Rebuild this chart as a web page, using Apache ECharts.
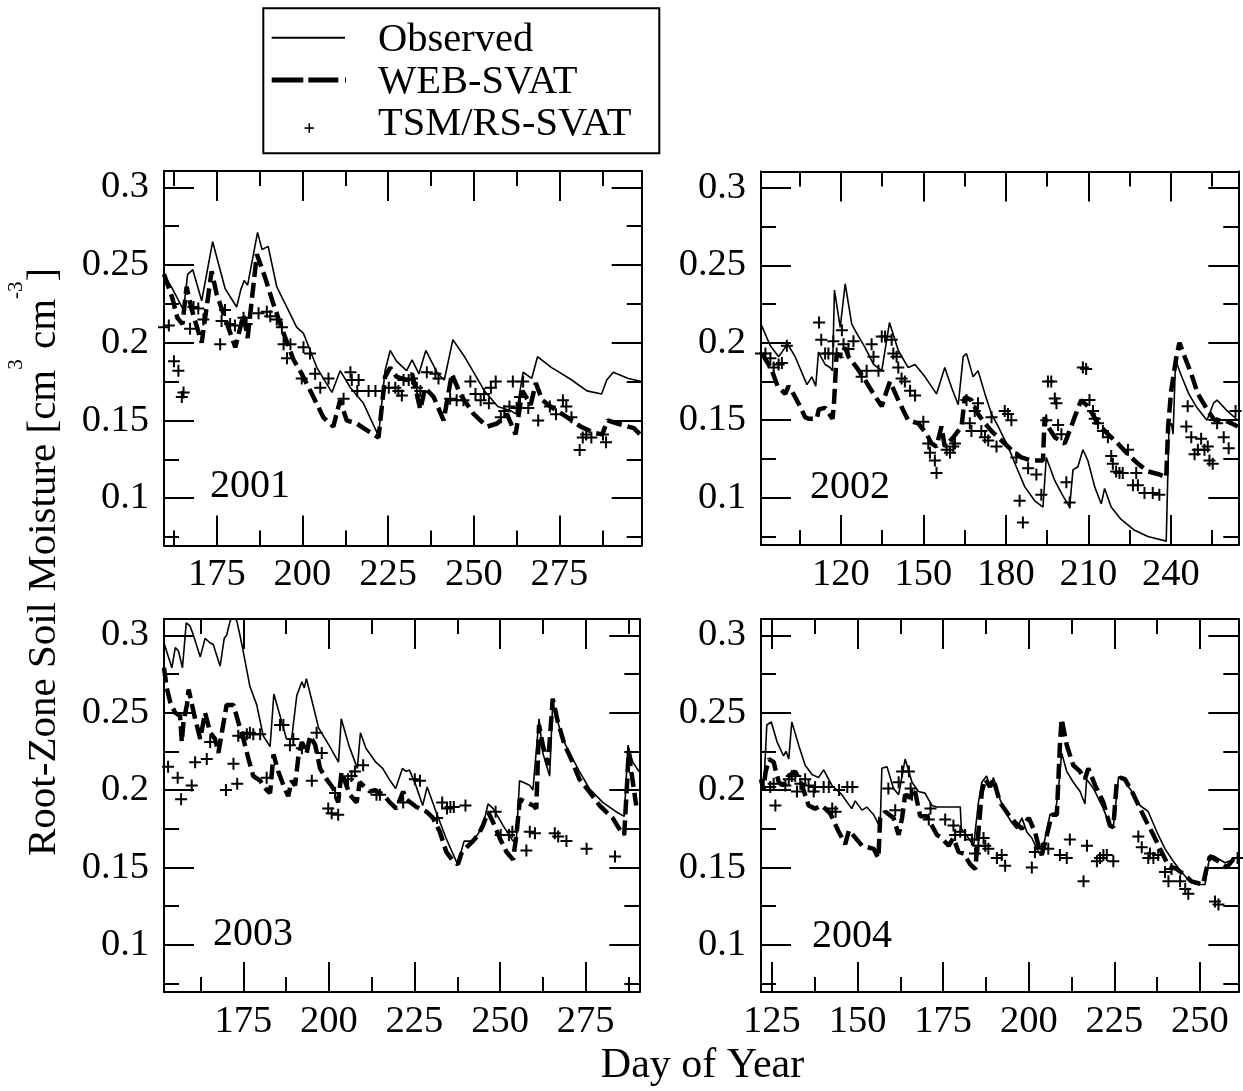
<!DOCTYPE html>
<html>
<head>
<meta charset="utf-8">
<script src="https://cdn.jsdelivr.net/npm/echarts@6/dist/echarts.min.js"></script>
<style>
html,body{margin:0;padding:0;background:#fff;}
#chart{width:1243px;height:1091px;}
</style>
</head>
<body>
<div id="chart"></div>
<script>
// ---------------- DATA ----------------
const seriesNames = ['Observed', 'WEB-SVAT', 'TSM/RS-SVAT'];
const yearLabels = ['2001', '2002', '2003', '2004'];
const xAxisTitle = 'Day of Year';

const yMajorTicks = [0.1, 0.15, 0.2, 0.25, 0.3];
const yMinorTicks = [0.075, 0.125, 0.175, 0.225, 0.275];

const xMajor2001 = [175, 200, 225, 250, 275];
const xMinor2001 = [162.5, 187.5, 212.5, 237.5, 262.5, 287.5];
const xMajor2002 = [120, 150, 180, 210, 240];
const xMinor2002 = [105, 135, 165, 195, 225, 255];
const xMajor2003 = [175, 200, 225, 250, 275];
const xMinor2003 = [162.5, 187.5, 212.5, 237.5, 262.5, 287.5];
const xMajor2004 = [125, 150, 175, 200, 225, 250];
const xMinor2004 = [137.5, 162.5, 187.5, 212.5, 237.5];

const obs2001 = [[159.6,0.244],[162,0.235],[165.3,0.221],[166.5,0.244],[168,0.247],[170.6,0.227],[173.8,0.265],[177.4,0.235],[180.8,0.223],[182,0.234],[183,0.24],[184,0.237],[186.9,0.271],[188.2,0.260],[190,0.262],[192.5,0.236],[195.4,0.223],[198.3,0.21],[200.3,0.206],[204.2,0.184],[208.6,0.168],[211,0.182],[214,0.171],[217.8,0.161],[222.2,0.140],[224.1,0.182],[225.6,0.195],[227.5,0.188],[230.4,0.182],[232,0.189],[234,0.18],[236,0.195],[239.5,0.18],[241.4,0.176],[243.9,0.202],[247.3,0.191],[253.1,0.169],[257,0.159],[261,0.156],[262.4,0.154],[264.4,0.181],[266.9,0.177],[268.6,0.191],[272.7,0.184],[274.2,0.182],[278.6,0.176],[283,0.169],[287.3,0.167],[288.8,0.176],[290.7,0.181],[295.1,0.177],[299,0.175]];
const web2001 = [[159.6,0.244],[162,0.229],[163.5,0.216],[165,0.212],[166.2,0.236],[167.6,0.222],[170.6,0.2],[173.5,0.246],[175,0.231],[177.4,0.216],[180.4,0.197],[182.8,0.218],[184,0.203],[186.7,0.257],[189.1,0.242],[191.5,0.225],[194.5,0.206],[197.4,0.189],[199.8,0.18],[203.2,0.165],[206.1,0.152],[209,0.146],[211,0.163],[212.9,0.15],[215.8,0.148],[219.3,0.143],[222.2,0.139],[224.1,0.178],[225.6,0.184],[227.5,0.178],[230.4,0.176],[232,0.18],[234.4,0.157],[235.8,0.171],[238.3,0.165],[241.2,0.15],[243.6,0.18],[246,0.167],[250,0.154],[253.9,0.146],[256.8,0.148],[259.7,0.154],[262.2,0.141],[264.2,0.169],[266.6,0.16],[268.1,0.174],[270,0.163],[272.4,0.159],[277.3,0.152],[281.2,0.146],[285.1,0.142],[287.5,0.141],[289,0.15],[291.9,0.148],[296.7,0.145],[299,0.14]];
const tsm2001 = [[159.6,0.21],[161,0.211],[162.5,0.188],[163.8,0.182],[164.8,0.165],[165.3,0.168],[167.2,0.209],[168.2,0.223],[169.6,0.222],[171.1,0.215],[176,0.199],[176.4,0.214],[177.4,0.221],[178.9,0.212],[180.3,0.211],[182.8,0.216],[183.7,0.212],[187.2,0.219],[189.6,0.22],[190.6,0.217],[192.5,0.215],[194,0.21],[194.5,0.199],[195.5,0.19],[196.5,0.199],[199.8,0.177],[200.3,0.197],[202.2,0.193],[203.7,0.18],[205.2,0.171],[207.6,0.177],[212,0.164],[214,0.181],[214.4,0.176],[216,0.169],[216.4,0.176],[219.3,0.169],[221.3,0.169],[225.2,0.171],[227.1,0.171],[228,0.169],[229,0.166],[229.5,0.176],[231,0.176],[232,0.177],[233.4,0.171],[234.4,0.169],[236.3,0.181],[238.8,0.18],[239.7,0.177],[243.1,0.164],[245,0.163],[247,0.163],[249,0.175],[250.5,0.167],[252,0.163],[253,0.167],[254.4,0.161],[255,0.171],[256.4,0.175],[257.9,0.152],[258.9,0.156],[260.4,0.159],[261.4,0.175],[262.5,0.158],[263.5,0.165],[264.4,0.175],[265.9,0.158],[268.8,0.15],[272.2,0.159],[274,0.154],[276,0.163],[277,0.159],[278.5,0.152],[280.9,0.131],[281.8,0.139],[282.8,0.141],[284.3,0.139],[287.7,0.141],[288.6,0.136]];

const obs2002 = [[91,0.212],[94.4,0.198],[97.4,0.191],[99.8,0.197],[100.4,0.2],[103.4,0.191],[107.7,0.173],[109.5,0.178],[110.9,0.172],[111.9,0.194],[114.3,0.186],[116.1,0.184],[117,0.182],[117.7,0.234],[119.8,0.21],[121.6,0.238],[124,0.212],[125.8,0.206],[128.8,0.197],[131.9,0.186],[134.9,0.182],[137.7,0.213],[140.9,0.195],[144.5,0.184],[147,0.186],[150.6,0.178],[154.8,0.167],[157.8,0.184],[160.3,0.171],[162.7,0.16],[164.5,0.191],[165.7,0.193],[168.1,0.178],[169.9,0.182],[172.4,0.167],[174.8,0.154],[177.2,0.146],[180.8,0.133],[183.8,0.12],[186.9,0.107],[190.5,0.098],[193.5,0.094],[194.7,0.126],[197.8,0.111],[200.8,0.101],[203.2,0.094],[204.4,0.118],[206.2,0.12],[208,0.131],[209.8,0.124],[212.3,0.107],[214.7,0.096],[215.9,0.106],[218.3,0.094],[221.9,0.086],[226.8,0.079],[231.6,0.075],[238.3,0.072],[239.3,0.146],[240.2,0.148],[240.8,0.141],[241.7,0.189],[243.5,0.18],[246.5,0.167],[249.5,0.158],[253.1,0.15],[255.5,0.161],[256.8,0.163],[260.5,0.156],[264.3,0.15]];
const web2002 = [[91.3,0.193],[93.8,0.186],[95,0.182],[97,0.172],[99.8,0.167],[101,0.172],[102.2,0.169],[105.2,0.159],[107,0.152],[108.3,0.151],[111.3,0.151],[112,0.157],[114.3,0.158],[117,0.151],[117.5,0.16],[118.5,0.193],[120.4,0.191],[121.6,0.197],[122.8,0.191],[125.8,0.184],[128.8,0.176],[131.9,0.167],[134.9,0.159],[136.7,0.169],[137.9,0.175],[140.9,0.163],[144.5,0.15],[148.2,0.148],[151.2,0.141],[153,0.135],[154.8,0.133],[156.6,0.146],[157.8,0.133],[160.9,0.139],[163.9,0.146],[165.1,0.165],[167.5,0.163],[169.9,0.154],[172.4,0.148],[174.8,0.143],[177.2,0.139],[179.6,0.135],[182,0.131],[185.7,0.126],[189.3,0.124],[193.5,0.124],[194.1,0.152],[195.3,0.146],[197.8,0.139],[201.4,0.135],[203.8,0.146],[205,0.152],[207.4,0.163],[209.8,0.159],[213.5,0.148],[217.1,0.141],[220.7,0.135],[224.4,0.128],[228,0.122],[231.6,0.117],[235.9,0.115],[238.3,0.113],[239,0.146],[240.1,0.169],[242,0.191],[243.1,0.2],[245,0.191],[247.4,0.18],[249.8,0.167],[253.5,0.156],[255.9,0.15],[259.5,0.15],[262,0.148],[264.3,0.146]];
const tsm2002 = [[91,0.193],[92.6,0.193],[94.4,0.19],[95.6,0.184],[97.4,0.186],[98.6,0.187],[100.4,0.198],[112.1,0.213],[112.9,0.202],[114.3,0.193],[115.5,0.193],[117.3,0.201],[118.5,0.193],[120.4,0.208],[121,0.199],[122.8,0.196],[124.6,0.201],[127.6,0.178],[129.4,0.182],[131.2,0.199],[131.9,0.191],[133.7,0.182],[134.9,0.204],[136.1,0.204],[138.5,0.202],[139.1,0.193],[140.3,0.191],[140.9,0.184],[142.1,0.177],[143.3,0.175],[145.2,0.169],[147,0.166],[150,0.149],[151.8,0.135],[152.4,0.129],[154.2,0.124],[154.8,0.116],[158.5,0.131],[159.7,0.129],[160.9,0.133],[161.5,0.135],[165.7,0.163],[166.9,0.148],[167.5,0.143],[168.7,0.156],[169.9,0.161],[171.1,0.143],[172.4,0.139],[173.6,0.137],[174.8,0.152],[176.6,0.133],[179.6,0.156],[180.8,0.154],[182,0.15],[183.8,0.126],[185,0.098],[186.2,0.084],[188.1,0.119],[191.1,0.115],[192.9,0.102],[194.7,0.15],[195.3,0.175],[196.5,0.175],[197.8,0.164],[198.4,0.161],[199,0.147],[200.2,0.141],[202,0.11],[203.2,0.097],[208,0.184],[209.2,0.183],[210.4,0.163],[211.7,0.156],[212.3,0.151],[213.5,0.148],[215.3,0.143],[217.1,0.139],[218.3,0.127],[218.9,0.122],[220.1,0.117],[221.3,0.116],[222.5,0.116],[224.4,0.131],[226.2,0.108],[227.4,0.116],[228,0.108],[230.4,0.103],[233.4,0.103],[235.8,0.102],[245.6,0.146],[246.1,0.159],[247.4,0.139],[248.6,0.128],[249.8,0.131],[251,0.138],[252.2,0.131],[253.4,0.133],[254,0.124],[255.2,0.122],[256.8,0.148],[259.2,0.139],[261,0.132],[263.5,0.156]];

const obs2003 = [[151.8,0.295],[154.1,0.279],[155.1,0.292],[156,0.29],[157.2,0.279],[158.3,0.308],[159.4,0.306],[160.4,0.3],[162.4,0.286],[163.8,0.298],[165.3,0.295],[166.2,0.294],[168.2,0.28],[169.4,0.298],[170.1,0.3],[171.1,0.309],[172.1,0.313],[173.1,0.309],[174,0.3],[175,0.289],[176.9,0.267],[178.9,0.255],[180.8,0.235],[182.8,0.228],[183.9,0.262],[185.7,0.248],[187.6,0.233],[189.1,0.233],[190.6,0.261],[192.1,0.27],[192.8,0.266],[193.4,0.272],[195.1,0.257],[197,0.24],[200,0.229],[202.8,0.218],[203.6,0.246],[205.8,0.229],[208.3,0.214],[209.2,0.237],[210.8,0.227],[213.7,0.218],[215.7,0.214],[217.6,0.207],[219.5,0.201],[221.5,0.214],[222.5,0.212],[223.5,0.213],[225.4,0.203],[227.4,0.19],[228.7,0.202],[231.3,0.186],[234.2,0.169],[237.6,0.152],[239.5,0.167],[241.5,0.167],[243.4,0.171],[245,0.177],[246.5,0.191],[248,0.188],[250.9,0.177],[253.8,0.167],[254.8,0.169],[255.7,0.206],[257.7,0.204],[258.7,0.203],[259.6,0.2],[261.4,0.246],[262.5,0.224],[264.5,0.209],[265.4,0.257],[265.9,0.252],[266.9,0.244],[268.3,0.233],[270.3,0.224],[273.2,0.212],[276.1,0.201],[280,0.192],[283.9,0.186],[286.3,0.183],[287.4,0.229],[288.8,0.218],[290.6,0.212]];
const web2003 = [[151.8,0.279],[152.6,0.266],[153.6,0.257],[155,0.25],[156.5,0.248],[157,0.231],[157.5,0.244],[158.5,0.255],[159,0.265],[160,0.255],[160.9,0.246],[162.4,0.233],[163.8,0.25],[165.3,0.237],[166.7,0.233],[167.7,0.224],[168.7,0.237],[170.1,0.255],[172.1,0.255],[173.5,0.244],[175,0.233],[176.5,0.22],[177.9,0.209],[179.9,0.206],[181.8,0.2],[182.8,0.198],[183.8,0.223],[185.2,0.212],[186.7,0.203],[188.1,0.196],[189.1,0.206],[190.1,0.203],[191.1,0.222],[192.1,0.231],[193.5,0.224],[194.5,0.235],[196,0.229],[197.4,0.214],[199.3,0.207],[201.3,0.201],[202.7,0.192],[203.7,0.212],[205.1,0.203],[206.1,0.197],[208.1,0.192],[209,0.205],[210,0.203],[212,0.199],[213.4,0.2],[215.9,0.197],[217.8,0.192],[219.7,0.188],[221.7,0.199],[222.6,0.194],[225.6,0.189],[228.5,0.186],[230.4,0.182],[232.4,0.173],[234.3,0.16],[236.3,0.154],[237.7,0.152],[238.7,0.159],[240.2,0.163],[242.1,0.167],[243.6,0.171],[245,0.177],[246.5,0.186],[248,0.179],[249.9,0.169],[251.9,0.16],[253.8,0.155],[254.8,0.171],[255.8,0.194],[257.7,0.192],[259.7,0.19],[260.6,0.188],[261.4,0.242],[262.5,0.229],[264,0.216],[265.4,0.259],[266.9,0.244],[268.9,0.229],[270.8,0.22],[273.2,0.207],[276.1,0.199],[279.1,0.19],[282.9,0.182],[285.4,0.173],[286.3,0.171],[287.1,0.203],[287.6,0.225],[288.3,0.213],[289.8,0.19]];
const tsm2003 = [[153,0.215],[155.8,0.208],[156.8,0.194],[159.9,0.203],[160.9,0.218],[164.3,0.22],[165.3,0.231],[169.9,0.2],[172.1,0.217],[173.2,0.204],[173.5,0.235],[175,0.234],[176,0.236],[176.9,0.237],[177.9,0.236],[179.9,0.236],[181.8,0.208],[185.7,0.242],[186.7,0.242],[188.6,0.229],[189.6,0.233],[192.1,0.227],[195,0.206],[196.4,0.237],[197.9,0.224],[199.8,0.188],[200.8,0.185],[201.8,0.198],[202.7,0.184],[205.6,0.207],[206.6,0.209],[207.6,0.212],[210,0.216],[213.9,0.197],[214.9,0.197],[221.7,0.192],[225.1,0.207],[226.6,0.206],[231.6,0.182],[233.1,0.192],[234.5,0.188],[235.5,0.189],[236.5,0.189],[239.9,0.19],[248.7,0.186],[250.2,0.171],[252.6,0.171],[253.6,0.173],[257.7,0.161],[258.7,0.173],[260.2,0.172],[266,0.172],[267,0.17],[269.4,0.167],[275.3,0.162],[283.6,0.157],[290.8,0.151]];

const obs2004 = [[121.8,0.201],[122.6,0.202],[123.5,0.242],[124.8,0.244],[126.5,0.231],[128.4,0.222],[129.1,0.225],[129.9,0.22],[130.8,0.244],[132.8,0.229],[134.7,0.216],[136.7,0.21],[138.6,0.208],[140.1,0.213],[142.5,0.203],[145.4,0.197],[148.3,0.188],[149.3,0.193],[151.3,0.187],[152.7,0.189],[154.7,0.184],[156.6,0.176],[157.1,0.214],[158.6,0.215],[160.5,0.201],[162,0.197],[163.9,0.22],[165.9,0.205],[167.8,0.199],[169.7,0.198],[171.7,0.19],[173.2,0.189],[180,0.189],[180.3,0.175],[182.4,0.169],[183.9,0.164],[185.3,0.192],[186.3,0.205],[187.7,0.209],[188.7,0.202],[189.7,0.208],[191.6,0.194],[193.1,0.186],[195,0.179],[196.5,0.175],[198,0.182],[199.4,0.173],[200.9,0.169],[202.8,0.16],[203.6,0.158],[204.8,0.169],[206.2,0.184],[207.7,0.184],[208.7,0.201],[209.6,0.224],[211.1,0.212],[213,0.205],[215,0.199],[216.4,0.191],[216.9,0.207],[218.9,0.201],[221.8,0.188],[223.7,0.177],[224.7,0.176],[226.2,0.208],[227.6,0.207],[230.1,0.199],[232.5,0.19],[234.9,0.186],[237.4,0.173],[239.8,0.162],[242.2,0.154],[244.6,0.147],[247,0.141],[249,0.139],[251.5,0.139],[252.9,0.158],[254.4,0.157],[257.3,0.153],[259.7,0.155],[261.2,0.157]];
const web2004 = [[121.8,0.207],[122.5,0.2],[123.1,0.211],[124.1,0.22],[125.5,0.218],[127,0.205],[128.4,0.203],[129.9,0.209],[131.8,0.212],[133.8,0.203],[135.7,0.19],[137.6,0.188],[139.6,0.19],[142,0.185],[144.5,0.173],[146.4,0.165],[147.5,0.174],[148.3,0.172],[151.3,0.164],[154.7,0.162],[156.1,0.156],[156.6,0.182],[158.1,0.186],[160.5,0.182],[162,0.171],[163,0.182],[163.9,0.197],[165.4,0.195],[166.8,0.199],[168.3,0.183],[170.2,0.183],[171.7,0.177],[173.2,0.171],[174.6,0.169],[176.6,0.164],[178,0.169],[179.5,0.16],[181,0.159],[182.9,0.152],[184.4,0.149],[185.3,0.173],[186.3,0.199],[187.3,0.207],[188.7,0.202],[189.7,0.207],[191.6,0.192],[194.1,0.184],[196,0.179],[198,0.175],[200,0.182],[201.8,0.173],[203.3,0.16],[203.8,0.158],[205.3,0.171],[206.7,0.184],[208.2,0.184],[209.1,0.229],[209.6,0.246],[211.1,0.229],[213,0.216],[215,0.212],[216.4,0.207],[217.4,0.214],[219.4,0.203],[221.8,0.192],[223.7,0.177],[224.7,0.176],[225.7,0.205],[226.7,0.208],[228.1,0.207],[230.6,0.197],[232.5,0.188],[234.5,0.179],[236.4,0.171],[238.8,0.16],[240.8,0.151],[243.2,0.149],[245.6,0.145],[247.5,0.141],[250.9,0.139],[251.9,0.149],[252.9,0.157],[255.4,0.154],[257.8,0.15],[259.7,0.155],[261.2,0.156]];
const tsm2004 = [[124.5,0.202],[125.5,0.204],[126,0.19],[128.9,0.203],[129.9,0.207],[130.8,0.209],[131.8,0.209],[132.3,0.199],[133.3,0.204],[134.7,0.207],[135.7,0.203],[137.2,0.199],[137.6,0.202],[140.1,0.202],[141.6,0.202],[142.6,0.188],[143.6,0.186],[144.6,0.2],[147,0.202],[148.5,0.202],[159,0.201],[161,0.187],[162,0.205],[163,0.212],[165,0.212],[165.5,0.201],[165.9,0.197],[170.8,0.181],[171.3,0.188],[175.6,0.181],[178,0.177],[178.5,0.171],[180,0.173],[181.4,0.171],[183.4,0.168],[184.3,0.159],[185.3,0.164],[186.8,0.169],[187.3,0.164],[188.2,0.162],[190.7,0.156],[192.1,0.158],[193.1,0.151],[200.9,0.15],[201.8,0.16],[203.8,0.162],[205.7,0.162],[209.1,0.158],[211.1,0.156],[212,0.168],[216,0.141],[217,0.164],[219.9,0.154],[220.8,0.156],[221.8,0.158],[222.8,0.158],[224.7,0.154],[232,0.17],[233,0.163],[234.9,0.156],[235.4,0.159],[236.4,0.156],[237.8,0.158],[239.8,0.147],[240.8,0.141],[241.7,0.149],[244.2,0.141],[245.7,0.136],[246.6,0.133],[254.4,0.128],[255.4,0.126],[261,0.156]];

// ---------------- LAYOUT / STYLE ----------------
const FONT = '"Liberation Serif", "Times New Roman", Times, serif';
const Y_MIN = 0.0695, Y_MAX = 0.3105;
const panels = [
  { grid: { left: 164, top: 171, width: 477.7, height: 374.5 }, xr: [159.6, 299], xMaj: xMajor2001, xMin: xMinor2001, obs: obs2001, web: web2001, tsm: tsm2001, year: yearLabels[0], yx: 210, yy: 486 },
  { grid: { left: 761, top: 171.5, width: 477.3, height: 373.5 }, xr: [91, 264.5], xMaj: xMajor2002, xMin: xMinor2002, obs: obs2002, web: web2002, tsm: tsm2002, year: yearLabels[1], yx: 810, yy: 487 },
  { grid: { left: 164, top: 619, width: 475.3, height: 373 }, xr: [151.8, 290.7], xMaj: xMajor2003, xMin: xMinor2003, obs: obs2003, web: web2003, tsm: tsm2003, year: yearLabels[2], yx: 213, yy: 934 },
  { grid: { left: 761, top: 619, width: 477.3, height: 373 }, xr: [121.8, 261.2], xMaj: xMajor2004, xMin: xMinor2004, obs: obs2004, web: web2004, tsm: tsm2004, year: yearLabels[3], yx: 812, yy: 936 }
];

const BLACK = '#000';
const PLUS = 'path://M-6,-1H-1V-6H1V-1H6V1H1V6H-1V1H-6Z';

function axisDef(dim, gi, pos, min, max, ticks, len, showLine, showLabel) {
  const a = {
    gridIndex: gi, type: 'value', position: pos, min: min, max: max,
    axisLine: { show: showLine, onZero: false, lineStyle: { color: BLACK, width: 2 } },
    axisTick: { show: true, inside: true, length: len, customValues: ticks, lineStyle: { color: BLACK, width: 2 } },
    axisLabel: { show: showLabel, customValues: ticks, color: BLACK, fontSize: 38.5, fontFamily: FONT },
    splitLine: { show: false },
    minorTick: { show: false },
    splitArea: { show: false }
  };
  if (showLabel) {
    a.axisLabel.margin = dim === 'x' ? 10 : 15;
  }
  return a;
}

const grids = [], xAxes = [], yAxes = [], series = [], graphics = [];
panels.forEach((p, gi) => {
  grids.push(Object.assign({ containLabel: false }, p.grid));
  xAxes.push(axisDef('x', gi, 'bottom', p.xr[0], p.xr[1], p.xMaj, 30, true, true));
  xAxes.push(axisDef('x', gi, 'bottom', p.xr[0], p.xr[1], p.xMin, 15, false, false));
  xAxes.push(axisDef('x', gi, 'top', p.xr[0], p.xr[1], p.xMaj, 30, true, false));
  xAxes.push(axisDef('x', gi, 'top', p.xr[0], p.xr[1], p.xMin, 15, false, false));
  yAxes.push(axisDef('y', gi, 'left', Y_MIN, Y_MAX, yMajorTicks, 30, true, true));
  yAxes.push(axisDef('y', gi, 'left', Y_MIN, Y_MAX, yMinorTicks, 15, false, false));
  yAxes.push(axisDef('y', gi, 'right', Y_MIN, Y_MAX, yMajorTicks, 30, true, false));
  yAxes.push(axisDef('y', gi, 'right', Y_MIN, Y_MAX, yMinorTicks, 15, false, false));
  const xi = gi * 4, yi = gi * 4;
  series.push({
    name: seriesNames[0], type: 'line', xAxisIndex: xi, yAxisIndex: yi, data: p.obs,
    showSymbol: false, symbol: 'none', clip: true, silent: true,
    lineStyle: { color: BLACK, width: 1.6 }, z: 2
  });
  series.push({
    name: seriesNames[1], type: 'line', xAxisIndex: xi, yAxisIndex: yi, data: p.web,
    showSymbol: false, symbol: 'none', clip: true, silent: true,
    lineStyle: { color: BLACK, width: 4.5, type: [15, 6], cap: 'butt' }, z: 3
  });
  series.push({
    name: seriesNames[2], type: 'scatter', xAxisIndex: xi, yAxisIndex: yi, data: p.tsm,
    symbol: PLUS, symbolSize: 12, symbolKeepAspect: true, clip: true, silent: true,
    itemStyle: { color: BLACK, opacity: 1 }, z: 4
  });
  graphics.push({
    type: 'text', x: p.yx, y: p.yy, z: 10,
    style: { text: p.year, fill: BLACK, fontSize: 40, fontFamily: FONT, align: 'left', verticalAlign: 'middle' }
  });
});

// Legend (drawn box as in the reference)
graphics.push({ type: 'rect', shape: { x: 263.3, y: 8.3, width: 396, height: 145 }, style: { fill: '#fff', stroke: BLACK, lineWidth: 2 }, z: 20 });
graphics.push({ type: 'line', shape: { x1: 271.7, y1: 37.7, x2: 345, y2: 37.7 }, style: { stroke: BLACK, lineWidth: 2 }, z: 21 });
graphics.push({ type: 'line', shape: { x1: 271.7, y1: 80, x2: 346, y2: 80 }, style: { stroke: BLACK, lineWidth: 5, lineDash: [31.6, 5, 30, 6.7, 1.7, 20] }, z: 21 });
graphics.push({ type: 'rect', shape: { x: 304.5, y: 127.25, width: 9.5, height: 1.6 }, style: { fill: BLACK }, z: 21 });
graphics.push({ type: 'rect', shape: { x: 308.45, y: 123.25, width: 1.6, height: 9.5 }, style: { fill: BLACK }, z: 21 });
[39, 81, 123].forEach((yy, i) => {
  graphics.push({ type: 'text', x: 378, y: yy + 1, z: 21,
    style: { text: seriesNames[i], fill: BLACK, fontSize: 40.5, fontFamily: FONT, align: 'left', verticalAlign: 'middle' } });
});

// Axis titles
graphics.push({ type: 'text', x: 702.5, y: 1066, z: 10,
  style: { text: xAxisTitle, fill: BLACK, fontSize: 42, fontFamily: FONT, align: 'center', verticalAlign: 'middle' } });
graphics.push({ type: 'text', x: 35, y: 562, rotation: Math.PI / 2, z: 10,
  style: {
    text: '{sp| }{a|Root-Zone Soil Moisture [cm}{s|3}{a| cm}{s|-3}{a|]}',
    align: 'center', verticalAlign: 'middle', fill: BLACK,
    rich: {
      sp: { fontSize: 1, lineHeight: 59, fontFamily: FONT },
      a: { fontSize: 41, fontFamily: FONT, fill: BLACK, lineHeight: 40, verticalAlign: 'bottom' },
      s: { fontSize: 21, fontFamily: FONT, fill: BLACK, lineHeight: 20, verticalAlign: 'top' }
    }
  } });

const chart = echarts.init(document.getElementById('chart'), null, { renderer: 'canvas' });
chart.setOption({
  animation: false,
  backgroundColor: '#fff',
  grid: grids,
  xAxis: xAxes,
  yAxis: yAxes,
  series: series,
  graphic: graphics
});
</script>
</body>
</html>
